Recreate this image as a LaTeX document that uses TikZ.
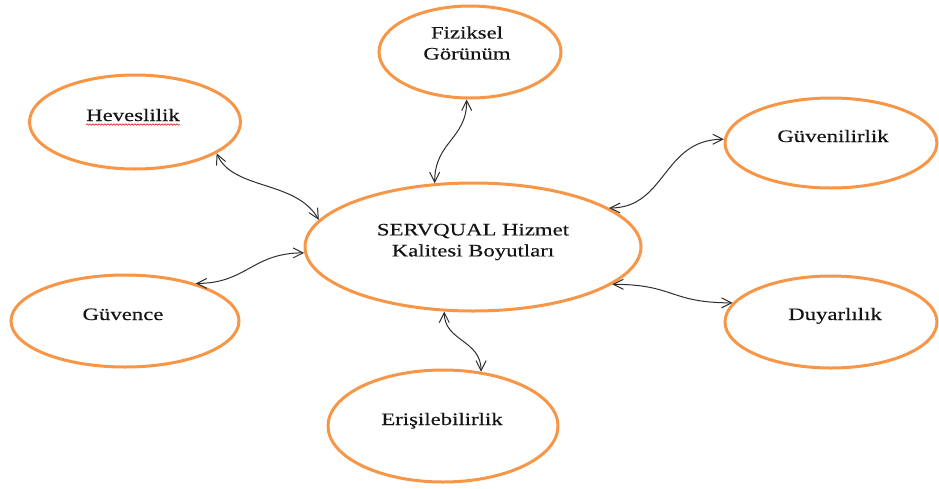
\documentclass[tikz,border=0pt]{standalone}
\usepackage{fontspec}
\setmainfont{Liberation Serif}[FakeStretch=1.3,FakeBold=0.3]
\usetikzlibrary{shapes.geometric,arrows.meta,decorations.pathmorphing}
\definecolor{ringorange}{HTML}{F79646}
\begin{document}
\begin{tikzpicture}[x=1pt,y=-1pt,
  ring/.style={ellipse, draw=ringorange, line width=3pt, inner sep=0pt, fill=white},
  dimtext/.style={font=\fontsize{17.5}{21}\selectfont, inner sep=0pt, text=black!92, align=center},
  barb/.tip={Straight Barb[length=10pt,width=10pt,line width=1pt]},
  link/.style={line width=1pt, draw=black!82, barb-barb}
]
\useasboundingbox (0,0) rectangle (939,488);

% outer dimension rings
\node[ring, minimum width=211pt, minimum height=94pt]  (hev) at (135,122) {};
\node[ring, minimum width=182pt, minimum height=92pt]  (fiz) at (470,52)  {};
\node[ring, minimum width=212pt, minimum height=90pt]  (guv) at (831,143) {};
\node[ring, minimum width=212pt, minimum height=92pt]  (duy) at (831,322) {};
\node[ring, minimum width=228pt, minimum height=92pt]  (gvc) at (125,321) {};
\node[ring, minimum width=230pt, minimum height=112pt] (eri) at (443,426) {};
% central ring
\node[ring, minimum width=336pt, minimum height=128pt] (srv) at (473,247) {};

% texts
\node[dimtext, anchor=base] (hevt) at (133,121) {Heveslilik};
\node[dimtext] (fizt) at (467,43) {Fiziksel\\Görünüm};
\node[dimtext, anchor=base] (guvt) at (833,142) {Güvenilirlik};
\node[dimtext, anchor=base] (duyt) at (835,320) {Duyarlılık};
\node[dimtext, anchor=base] (gvct) at (123,320) {Güvence};
\node[dimtext, anchor=base] (erit) at (442,425) {Erişilebilirlik};
\node[dimtext] (srvt) at (473,242) {SERVQUAL Hizmet\\Kalitesi Boyutları};

% spell-check squiggle
\draw[red!85!black, line width=0.5pt, decorate,
      decoration={snake, amplitude=0.7pt, segment length=3pt}]
  ([yshift=-3.5pt]hevt.base west) -- ([yshift=-3.5pt]hevt.base east);

% curved two-way connectors
\draw[link] (hev.-21)  .. controls +(16,37) and +(-23,-40) .. (srv.170);
\draw[link] (fiz.-94)  .. controls +(0,40)  and +(0,-42)   .. (srv.121);
\draw[link] (srv.16)   .. controls +(57,0)  and +(-61,0)   .. (guv.178);
\draw[link] (srv.-15)  .. controls +(62,0)  and +(-63,0)   .. (duy.169);
\draw[link] (gvc.28)   .. controls +(51,0)  and +(-52,0)   .. (srv.182);
\draw[link] (srv.-114) .. controls +(0,30)  and +(0,-32)   .. (eri.55);
\end{tikzpicture}
\end{document}
